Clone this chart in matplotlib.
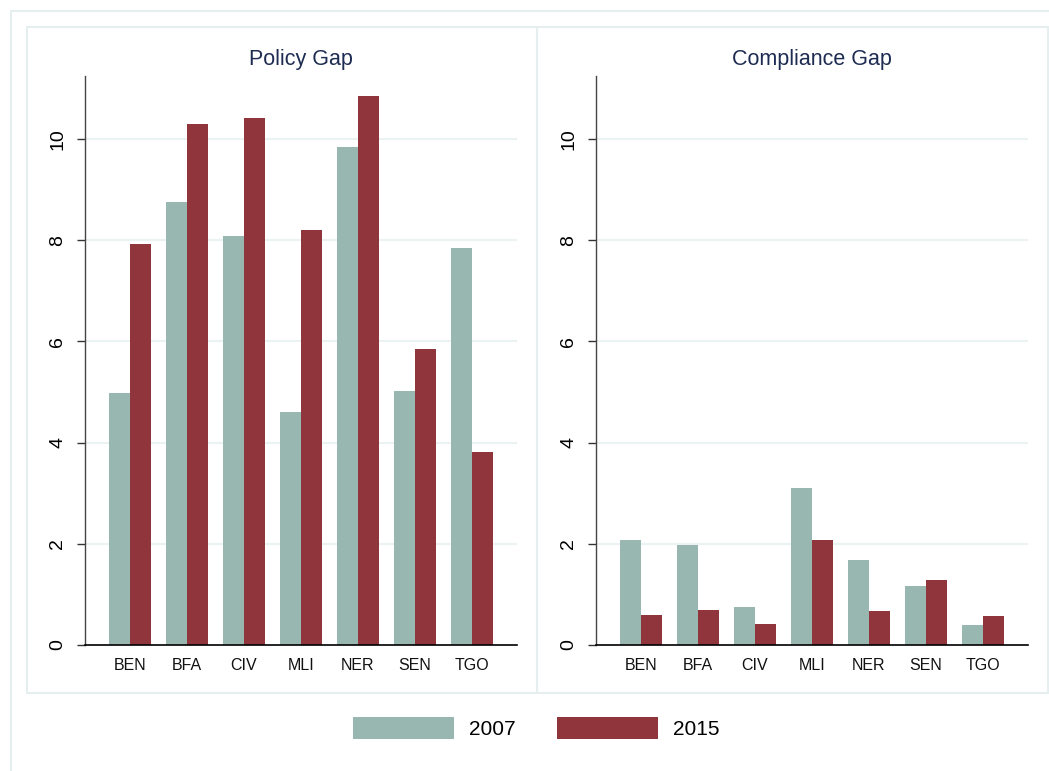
import numpy as np
import matplotlib.pyplot as plt
from matplotlib.patches import Rectangle, Patch

plt.rcParams['font.family'] = ['Liberation Sans', 'DejaVu Sans']

countries = ['BEN', 'BFA', 'CIV', 'MLI', 'NER', 'SEN', 'TGO']
years = ['2007', '2015']

policy_2007 = [4.98, 8.75, 8.08, 4.60, 9.84, 5.02, 7.84]
policy_2015 = [7.93, 10.30, 10.42, 8.20, 10.84, 5.84, 3.82]
compl_2007 = [2.08, 1.98, 0.75, 3.10, 1.68, 1.17, 0.40]
compl_2015 = [0.59, 0.69, 0.42, 2.07, 0.68, 1.28, 0.58]

titles = ['Policy Gap', 'Compliance Gap']
yticks = [0, 2, 4, 6, 8, 10]

c07 = '#98b7b1'
c15 = '#90353c'
frame_col = '#e6eef0'
grid_col = '#eaf2f3'
title_col = '#1e2c52'

W, H = 1049, 771
fig = plt.figure(figsize=(W / 100, H / 100), dpi=100)
fig.patch.set_facecolor('white')


def px(x0, y0, x1, y1):
    # pixel box -> figure fraction [left, bottom, width, height]
    return [x0 / W, 1 - y1 / H, (x1 - x0) / W, (y1 - y0) / H]


# outer frame and panel boxes
for box in [(11, 11, 1060, 790), (27, 27, 537, 693), (537, 27, 1048, 693)]:
    l, b, w, h = px(*box)
    fig.patches.append(Rectangle((l, b), w, h, transform=fig.transFigure,
                                 fill=False, edgecolor=frame_col, linewidth=1.5,
                                 zorder=0))

axes_boxes = [(85, 76, 517, 645), (596, 76, 1028, 645)]
data = [(policy_2007, policy_2015), (compl_2007, compl_2015)]

x = np.arange(len(countries))
w = 0.375

for box, (v07, v15), title in zip(axes_boxes, data, titles):
    ax = fig.add_axes(px(*box))
    ax.set_facecolor('none')
    ax.bar(x - w / 2, v07, w, color=c07, zorder=2)
    ax.bar(x + w / 2, v15, w, color=c15, zorder=2)
    ax.set_xlim(-0.79, 6.79)
    ax.set_ylim(0, 11.245)
    ax.set_yticks(yticks)
    ax.set_yticklabels([str(t) for t in yticks], rotation=90, va='center',
                       fontsize=14)
    ax.set_xticks(x)
    ax.set_xticklabels(countries, fontsize=11.5, color='#111111')
    ax.tick_params(axis='x', length=0, pad=9)
    ax.tick_params(axis='y', length=5.5, width=1.0, pad=8, color='#333333')
    for t in yticks[1:]:
        ax.axhline(t, color=grid_col, linewidth=1.5, zorder=1)
    for s in ['top', 'right']:
        ax.spines[s].set_visible(False)
    ax.spines['left'].set_color('#444444')
    ax.spines['left'].set_linewidth(1.0)
    ax.spines['bottom'].set_color('#000000')
    ax.spines['bottom'].set_linewidth(1.2)
    ax.set_title(title, fontsize=15.5, color=title_col, pad=8)

handles = [Patch(facecolor=c07, edgecolor='none'),
           Patch(facecolor=c15, edgecolor='none')]
fig.legend(handles, years, loc='center', bbox_to_anchor=(536 / W, 1 - 728 / H),
           ncol=2, frameon=False, fontsize=15, handlelength=4.85,
           handleheight=1.3, handletextpad=0.72, columnspacing=2.0)

fig.savefig('out.png', dpi=100)
